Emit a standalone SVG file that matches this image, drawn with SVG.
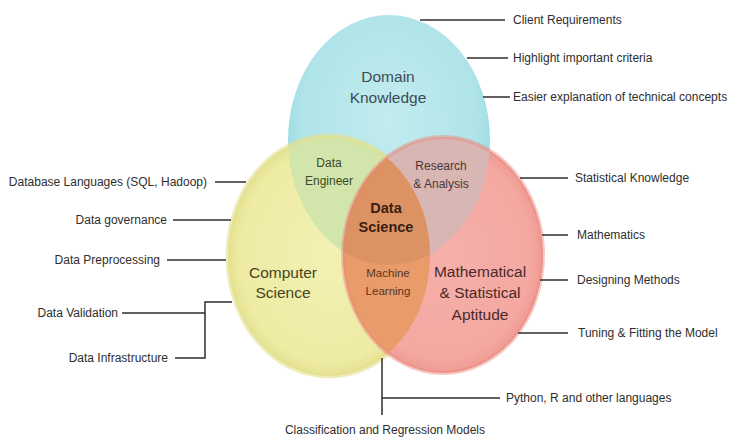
<svg xmlns="http://www.w3.org/2000/svg" width="732" height="439" viewBox="0 0 732 439">
<style>
.lbl{font-family:"Liberation Sans",Arial,sans-serif;font-size:12px;fill:#2e2e2e}
.in{font-family:"Liberation Sans",Arial,sans-serif;text-anchor:middle}
.big{font-size:15.5px}
.sm{font-size:12px}
.con{fill:none;stroke:#2e2e2e;stroke-width:1.5}
</style>
<defs>
<ellipse id="eB" cx="389" cy="140" rx="101" ry="125"/>
<ellipse id="eY" cx="329" cy="256" rx="101" ry="120"/>
<ellipse id="eR" cx="443" cy="255" rx="100" ry="118"/>
<clipPath id="cB"><use href="#eB"/></clipPath>
<clipPath id="cY"><use href="#eY"/></clipPath>
<clipPath id="cR"><use href="#eR"/></clipPath>
<radialGradient id="gB" cx="0.5" cy="0.42" r="0.55">
<stop offset="0" stop-color="#c2ecef"/><stop offset="0.8" stop-color="#afe4e9"/><stop offset="1" stop-color="#95d9df"/>
</radialGradient>
<radialGradient id="gY" cx="0.5" cy="0.5" r="0.55">
<stop offset="0" stop-color="#f3f1b4"/><stop offset="0.8" stop-color="#eeeba4"/><stop offset="1" stop-color="#dedb86"/>
</radialGradient>
<radialGradient id="gR" cx="0.5" cy="0.5" r="0.55">
<stop offset="0" stop-color="#f6b0aa"/><stop offset="0.8" stop-color="#f4a8a1"/><stop offset="1" stop-color="#ec8f86"/>
</radialGradient>
</defs>
<rect width="732" height="439" fill="#ffffff"/>

<g id="domain-knowledge">
<use href="#eB" fill="url(#gB)"/>
<text class="in big" x="388" y="82" fill="#3d4b55">Domain</text>
<text class="in big" x="388" y="103" fill="#3d4b55">Knowledge</text>
</g>

<g id="computer-science">
<use href="#eY" fill="url(#gY)"/>
<g clip-path="url(#cB)"><use href="#eY" fill="#d2e5ab"/></g>
<use href="#eY" fill="none" stroke="#e2df8e" stroke-width="5" opacity="0.6"/>
<text class="in big" x="283" y="278" fill="#45451e">Computer</text>
<text class="in big" x="283" y="298" fill="#45451e">Science</text>
</g>

<g id="math-stat-aptitude">
<use href="#eR" fill="url(#gR)"/>
<g clip-path="url(#cB)"><use href="#eR" fill="#d8b6b3"/></g>
<g clip-path="url(#cY)"><use href="#eR" fill="#e99b6a"/></g>
<g clip-path="url(#cY)"><g clip-path="url(#cB)"><use href="#eR" fill="#dc9263"/></g></g>
<use href="#eR" fill="none" stroke="#e8877c" stroke-width="4" opacity="0.45"/>
<text class="in big" x="480" y="277" fill="#4a2a2a">Mathematical</text>
<text class="in big" x="480" y="298" fill="#4a2a2a">&amp; Statistical</text>
<text class="in big" x="480" y="320" fill="#4a2a2a">Aptitude</text>
</g>

<g id="data-engineer">
<text class="in sm" x="329" y="167" fill="#3b4a2a">Data</text>
<text class="in sm" x="329" y="185" fill="#3b4a2a">Engineer</text>
</g>
<g id="research-analysis">
<text class="in sm" x="441" y="170" fill="#4b3535">Research</text>
<text class="in sm" x="441" y="188" fill="#4b3535">&amp; Analysis</text>
</g>
<g id="data-science">
<text class="in" x="386" y="213" font-size="14.5" font-weight="bold" fill="#3a1e12">Data</text>
<text class="in" x="386" y="232" font-size="14.5" font-weight="bold" fill="#3a1e12">Science</text>
</g>
<g id="machine-learning">
<text class="in" x="388" y="277" font-size="11.5" fill="#5a3520">Machine</text>
<text class="in" x="388" y="295" font-size="11.5" fill="#5a3520">Learning</text>
</g>

<g id="connectors">
<path class="con" d="M420 20H505"/>
<path class="con" d="M467 58H508"/>
<path class="con" d="M483 97H510"/>
<path class="con" d="M520 178H568"/>
<path class="con" d="M542 235H568"/>
<path class="con" d="M540 280H568"/>
<path class="con" d="M518 333H568"/>
<path class="con" d="M382 358V415M382 398H500"/>
<path class="con" d="M215 182H246"/>
<path class="con" d="M173 220H231"/>
<path class="con" d="M167 260H226"/>
<path class="con" d="M122 313H205M232 302H205V358H175"/>
</g>

<g id="client-requirements"><text class="lbl" x="513" y="24">Client Requirements</text></g>
<g id="highlight-criteria"><text class="lbl" x="513" y="62">Highlight important criteria</text></g>
<g id="easier-explanation"><text class="lbl" x="513" y="101">Easier explanation of technical concepts</text></g>
<g id="statistical-knowledge"><text class="lbl" x="575" y="182">Statistical Knowledge</text></g>
<g id="mathematics"><text class="lbl" x="577" y="239">Mathematics</text></g>
<g id="designing-methods"><text class="lbl" x="577" y="284">Designing Methods</text></g>
<g id="tuning-fitting"><text class="lbl" x="578" y="337">Tuning &amp; Fitting the Model</text></g>
<g id="python-r"><text class="lbl" x="506" y="402">Python, R and other languages</text></g>
<g id="classification-regression"><text class="lbl" x="385" y="434" text-anchor="middle">Classification and Regression Models</text></g>
<g id="database-languages"><text class="lbl" x="207" y="186" text-anchor="end" font-size="11.8">Database Languages (SQL, Hadoop)</text></g>
<g id="data-governance"><text class="lbl" x="167" y="224" text-anchor="end">Data governance</text></g>
<g id="data-preprocessing"><text class="lbl" x="160" y="264" text-anchor="end">Data Preprocessing</text></g>
<g id="data-validation"><text class="lbl" x="118" y="317" text-anchor="end">Data Validation</text></g>
<g id="data-infrastructure"><text class="lbl" x="168" y="362" text-anchor="end">Data Infrastructure</text></g>
</svg>
